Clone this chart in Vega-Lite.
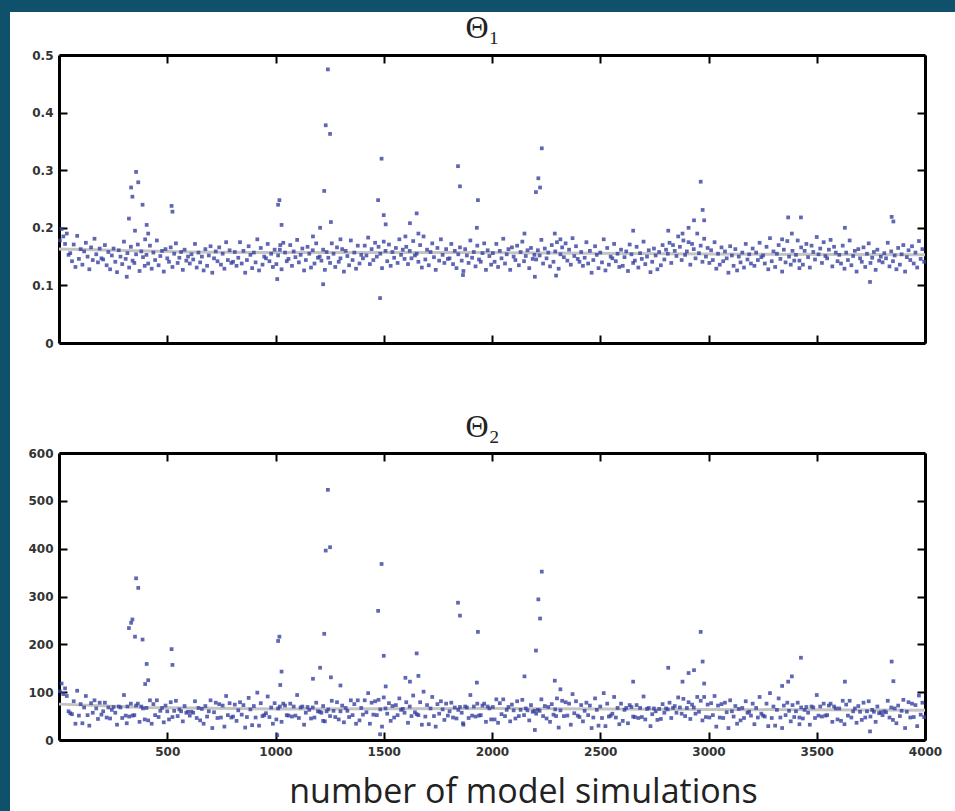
{
"$schema":"https://vega.github.io/schema/vega-lite/v6.json",
"background":"#0f506b",
"padding":{"left":10,"top":12,"right":0,"bottom":0},
"spacing":0,
"config":{"view":{"fill":"white","stroke":null},"axis":{"domainColor":"black","domainWidth":3,"tickColor":"black","tickWidth":2,"tickSize":-8,"grid":false,"labelFlush":false,"labelFont":"DejaVu Sans","labelFontWeight":"bold","labelFontSize":12,"labelColor":"#333333","titleFont":"Open Sans"}},
"datasets":{
"trend1":[{"sim":0,"v":0.163},{"sim":600,"v":0.158},{"sim":1000,"v":0.157},{"sim":2000,"v":0.157},{"sim":3000,"v":0.1545},{"sim":4000,"v":0.153}],
"trend2":[{"sim":0,"v":75},{"sim":400,"v":68},{"sim":1000,"v":65},{"sim":2000,"v":66},{"sim":3000,"v":64},{"sim":4000,"v":62}],
"sims":[
{"sim":4,"t1":0.178,"t2":102},{"sim":12,"t1":0.198,"t2":118},{"sim":20,"t1":0.185,"t2":96},{"sim":28,"t1":0.172,"t2":108},{"sim":36,"t1":0.19,"t2":92},{"sim":44,"t1":0.153,"t2":60},{"sim":52,"t1":0.156,"t2":56},{"sim":60,"t1":0.142,"t2":54},{"sim":68,"t1":0.171,"t2":81},{"sim":76,"t1":0.132,"t2":34},{"sim":84,"t1":0.186,"t2":103},{"sim":92,"t1":0.146,"t2":51},{"sim":100,"t1":0.163,"t2":75},{"sim":108,"t1":0.136,"t2":35},{"sim":116,"t1":0.159,"t2":68},{"sim":124,"t1":0.174,"t2":92},{"sim":132,"t1":0.15,"t2":52},{"sim":140,"t1":0.128,"t2":30},{"sim":148,"t1":0.166,"t2":77},{"sim":156,"t1":0.144,"t2":57},{"sim":164,"t1":0.181,"t2":83},{"sim":172,"t1":0.154,"t2":66},{"sim":180,"t1":0.14,"t2":44},{"sim":188,"t1":0.164,"t2":78},{"sim":196,"t1":0.147,"t2":53},
{"sim":204,"t1":0.145,"t2":60},{"sim":212,"t1":0.17,"t2":78},{"sim":220,"t1":0.135,"t2":47},{"sim":228,"t1":0.158,"t2":68},{"sim":236,"t1":0.128,"t2":45},{"sim":244,"t1":0.152,"t2":63},{"sim":252,"t1":0.164,"t2":69},{"sim":260,"t1":0.141,"t2":57},{"sim":268,"t1":0.123,"t2":32},{"sim":276,"t1":0.161,"t2":70},{"sim":284,"t1":0.15,"t2":68},{"sim":292,"t1":0.137,"t2":46},{"sim":300,"t1":0.176,"t2":94},{"sim":308,"t1":0.146,"t2":51},{"sim":316,"t1":0.156,"t2":70},{"sim":324,"t1":0.131,"t2":49},{"sim":332,"t1":0.167,"t2":76},{"sim":340,"t1":0.143,"t2":51},{"sim":348,"t1":0.139,"t2":52},{"sim":356,"t1":0.154,"t2":72},{"sim":364,"t1":0.171,"t2":76},{"sim":372,"t1":0.125,"t2":38},{"sim":380,"t1":0.159,"t2":70},{"sim":388,"t1":0.149,"t2":66},{"sim":396,"t1":0.134,"t2":43},
{"sim":404,"t1":0.153,"t2":67},{"sim":412,"t1":0.138,"t2":41},{"sim":420,"t1":0.169,"t2":83},{"sim":428,"t1":0.129,"t2":34},{"sim":436,"t1":0.157,"t2":75},{"sim":444,"t1":0.144,"t2":52},{"sim":452,"t1":0.178,"t2":83},{"sim":460,"t1":0.135,"t2":48},{"sim":468,"t1":0.151,"t2":61},{"sim":476,"t1":0.16,"t2":67},{"sim":484,"t1":0.124,"t2":37},{"sim":492,"t1":0.163,"t2":72},{"sim":500,"t1":0.147,"t2":60},{"sim":508,"t1":0.141,"t2":43},{"sim":516,"t1":0.166,"t2":79},{"sim":524,"t1":0.132,"t2":48},{"sim":532,"t1":0.155,"t2":61},{"sim":540,"t1":0.173,"t2":82},{"sim":548,"t1":0.139,"t2":50},{"sim":556,"t1":0.148,"t2":64},{"sim":564,"t1":0.158,"t2":60},{"sim":572,"t1":0.127,"t2":39},{"sim":580,"t1":0.162,"t2":71},{"sim":588,"t1":0.143,"t2":57},{"sim":596,"t1":0.15,"t2":59},
{"sim":604,"t1":0.138,"t2":51},{"sim":612,"t1":0.154,"t2":59},{"sim":620,"t1":0.145,"t2":57},{"sim":628,"t1":0.172,"t2":81},{"sim":636,"t1":0.131,"t2":46},{"sim":644,"t1":0.157,"t2":67},{"sim":652,"t1":0.14,"t2":41},{"sim":660,"t1":0.15,"t2":65},{"sim":668,"t1":0.126,"t2":34},{"sim":676,"t1":0.163,"t2":71},{"sim":684,"t1":0.134,"t2":49},{"sim":692,"t1":0.152,"t2":60},{"sim":700,"t1":0.168,"t2":83},{"sim":708,"t1":0.122,"t2":25},{"sim":716,"t1":0.147,"t2":58},{"sim":724,"t1":0.159,"t2":78},{"sim":732,"t1":0.142,"t2":46},{"sim":740,"t1":0.166,"t2":75},{"sim":748,"t1":0.136,"t2":47},{"sim":756,"t1":0.155,"t2":72},{"sim":764,"t1":0.129,"t2":28},{"sim":772,"t1":0.175,"t2":92},{"sim":780,"t1":0.144,"t2":52},{"sim":788,"t1":0.161,"t2":77},{"sim":796,"t1":0.139,"t2":47},
{"sim":804,"t1":0.141,"t2":49},{"sim":812,"t1":0.158,"t2":74},{"sim":820,"t1":0.134,"t2":40},{"sim":828,"t1":0.148,"t2":62},{"sim":836,"t1":0.175,"t2":79},{"sim":844,"t1":0.138,"t2":53},{"sim":852,"t1":0.16,"t2":73},{"sim":860,"t1":0.122,"t2":26},{"sim":868,"t1":0.144,"t2":48},{"sim":876,"t1":0.168,"t2":88},{"sim":884,"t1":0.153,"t2":64},{"sim":892,"t1":0.13,"t2":31},{"sim":900,"t1":0.157,"t2":71},{"sim":908,"t1":0.14,"t2":47},{"sim":916,"t1":0.18,"t2":99},{"sim":924,"t1":0.126,"t2":30},{"sim":932,"t1":0.165,"t2":77},{"sim":940,"t1":0.136,"t2":50},{"sim":948,"t1":0.15,"t2":52},{"sim":956,"t1":0.147,"t2":56},{"sim":964,"t1":0.172,"t2":91},{"sim":972,"t1":0.142,"t2":48},{"sim":980,"t1":0.155,"t2":68},{"sim":988,"t1":0.132,"t2":34},{"sim":996,"t1":0.162,"t2":77},
{"sim":1004,"t1":0.137,"t2":43},{"sim":1012,"t1":0.152,"t2":66},{"sim":1020,"t1":0.162,"t2":70},{"sim":1028,"t1":0.128,"t2":38},{"sim":1036,"t1":0.174,"t2":76},{"sim":1044,"t1":0.157,"t2":72},{"sim":1052,"t1":0.142,"t2":52},{"sim":1060,"t1":0.146,"t2":51},{"sim":1068,"t1":0.17,"t2":76},{"sim":1076,"t1":0.134,"t2":49},{"sim":1084,"t1":0.159,"t2":70},{"sim":1092,"t1":0.149,"t2":51},{"sim":1100,"t1":0.179,"t2":94},{"sim":1108,"t1":0.14,"t2":46},{"sim":1116,"t1":0.153,"t2":68},{"sim":1124,"t1":0.164,"t2":70},{"sim":1132,"t1":0.126,"t2":32},{"sim":1140,"t1":0.144,"t2":57},{"sim":1148,"t1":0.167,"t2":69},{"sim":1156,"t1":0.155,"t2":63},{"sim":1164,"t1":0.131,"t2":45},{"sim":1172,"t1":0.161,"t2":68},{"sim":1180,"t1":0.138,"t2":47},{"sim":1188,"t1":0.173,"t2":78},{"sim":1196,"t1":0.148,"t2":60},
{"sim":1204,"t1":0.15,"t2":59},{"sim":1212,"t1":0.143,"t2":57},{"sim":1220,"t1":0.162,"t2":71},{"sim":1228,"t1":0.127,"t2":39},{"sim":1236,"t1":0.158,"t2":60},{"sim":1244,"t1":0.148,"t2":64},{"sim":1252,"t1":0.139,"t2":50},{"sim":1260,"t1":0.173,"t2":82},{"sim":1268,"t1":0.155,"t2":61},{"sim":1276,"t1":0.132,"t2":48},{"sim":1284,"t1":0.166,"t2":79},{"sim":1292,"t1":0.141,"t2":43},{"sim":1300,"t1":0.147,"t2":60},{"sim":1308,"t1":0.163,"t2":72},{"sim":1316,"t1":0.124,"t2":37},{"sim":1324,"t1":0.16,"t2":67},{"sim":1332,"t1":0.151,"t2":61},{"sim":1340,"t1":0.135,"t2":48},{"sim":1348,"t1":0.178,"t2":83},{"sim":1356,"t1":0.144,"t2":52},{"sim":1364,"t1":0.157,"t2":75},{"sim":1372,"t1":0.129,"t2":34},{"sim":1380,"t1":0.169,"t2":83},{"sim":1388,"t1":0.138,"t2":41},{"sim":1396,"t1":0.153,"t2":67},
{"sim":1404,"t1":0.147,"t2":53},{"sim":1412,"t1":0.169,"t2":83},{"sim":1420,"t1":0.152,"t2":58},{"sim":1428,"t1":0.183,"t2":98},{"sim":1436,"t1":0.137,"t2":34},{"sim":1444,"t1":0.163,"t2":78},{"sim":1452,"t1":0.144,"t2":53},{"sim":1460,"t1":0.174,"t2":81},{"sim":1468,"t1":0.15,"t2":52},{"sim":1476,"t1":0.167,"t2":84},{"sim":1484,"t1":0.155,"t2":64},{"sim":1492,"t1":0.13,"t2":28},{"sim":1500,"t1":0.176,"t2":89},{"sim":1508,"t1":0.16,"t2":66},{"sim":1516,"t1":0.142,"t2":55},{"sim":1524,"t1":0.171,"t2":77},{"sim":1532,"t1":0.134,"t2":40},{"sim":1540,"t1":0.158,"t2":71},{"sim":1548,"t1":0.148,"t2":47},{"sim":1556,"t1":0.165,"t2":73},{"sim":1564,"t1":0.139,"t2":52},{"sim":1572,"t1":0.18,"t2":87},{"sim":1580,"t1":0.153,"t2":63},{"sim":1588,"t1":0.162,"t2":65},{"sim":1596,"t1":0.146,"t2":57},
{"sim":1604,"t1":0.167,"t2":79},{"sim":1612,"t1":0.137,"t2":36},{"sim":1620,"t1":0.16,"t2":70},{"sim":1628,"t1":0.147,"t2":50},{"sim":1636,"t1":0.177,"t2":93},{"sim":1644,"t1":0.152,"t2":58},{"sim":1652,"t1":0.155,"t2":54},{"sim":1660,"t1":0.141,"t2":52},{"sim":1668,"t1":0.17,"t2":79},{"sim":1676,"t1":0.131,"t2":32},{"sim":1684,"t1":0.185,"t2":101},{"sim":1692,"t1":0.145,"t2":49},{"sim":1700,"t1":0.162,"t2":73},{"sim":1708,"t1":0.135,"t2":33},{"sim":1716,"t1":0.158,"t2":66},{"sim":1724,"t1":0.173,"t2":90},{"sim":1732,"t1":0.149,"t2":50},{"sim":1740,"t1":0.127,"t2":28},{"sim":1748,"t1":0.165,"t2":75},{"sim":1756,"t1":0.143,"t2":55},{"sim":1764,"t1":0.18,"t2":81},{"sim":1772,"t1":0.153,"t2":64},{"sim":1780,"t1":0.139,"t2":42},{"sim":1788,"t1":0.163,"t2":76},{"sim":1796,"t1":0.146,"t2":51},
{"sim":1804,"t1":0.147,"t2":60},{"sim":1812,"t1":0.172,"t2":78},{"sim":1820,"t1":0.137,"t2":47},{"sim":1828,"t1":0.16,"t2":68},{"sim":1836,"t1":0.13,"t2":45},{"sim":1844,"t1":0.154,"t2":63},{"sim":1852,"t1":0.166,"t2":69},{"sim":1860,"t1":0.143,"t2":57},{"sim":1868,"t1":0.125,"t2":32},{"sim":1876,"t1":0.163,"t2":70},{"sim":1884,"t1":0.152,"t2":68},{"sim":1892,"t1":0.139,"t2":46},{"sim":1900,"t1":0.178,"t2":94},{"sim":1908,"t1":0.148,"t2":51},{"sim":1916,"t1":0.158,"t2":70},{"sim":1924,"t1":0.133,"t2":49},{"sim":1932,"t1":0.169,"t2":76},{"sim":1940,"t1":0.145,"t2":51},{"sim":1948,"t1":0.141,"t2":52},{"sim":1956,"t1":0.156,"t2":72},{"sim":1964,"t1":0.173,"t2":76},{"sim":1972,"t1":0.127,"t2":38},{"sim":1980,"t1":0.161,"t2":70},{"sim":1988,"t1":0.151,"t2":66},{"sim":1996,"t1":0.136,"t2":43},
{"sim":2004,"t1":0.156,"t2":69},{"sim":2012,"t1":0.141,"t2":43},{"sim":2020,"t1":0.172,"t2":85},{"sim":2028,"t1":0.132,"t2":36},{"sim":2036,"t1":0.16,"t2":77},{"sim":2044,"t1":0.147,"t2":54},{"sim":2052,"t1":0.181,"t2":85},{"sim":2060,"t1":0.138,"t2":50},{"sim":2068,"t1":0.154,"t2":63},{"sim":2076,"t1":0.163,"t2":69},{"sim":2084,"t1":0.127,"t2":39},{"sim":2092,"t1":0.166,"t2":74},{"sim":2100,"t1":0.15,"t2":62},{"sim":2108,"t1":0.144,"t2":45},{"sim":2116,"t1":0.169,"t2":81},{"sim":2124,"t1":0.135,"t2":50},{"sim":2132,"t1":0.158,"t2":63},{"sim":2140,"t1":0.176,"t2":84},{"sim":2148,"t1":0.142,"t2":52},{"sim":2156,"t1":0.151,"t2":66},{"sim":2164,"t1":0.161,"t2":62},{"sim":2172,"t1":0.13,"t2":41},{"sim":2180,"t1":0.165,"t2":73},{"sim":2188,"t1":0.146,"t2":59},{"sim":2196,"t1":0.153,"t2":61},
{"sim":2204,"t1":0.145,"t2":55},{"sim":2212,"t1":0.161,"t2":63},{"sim":2220,"t1":0.152,"t2":61},{"sim":2228,"t1":0.179,"t2":85},{"sim":2236,"t1":0.138,"t2":50},{"sim":2244,"t1":0.164,"t2":71},{"sim":2252,"t1":0.147,"t2":45},{"sim":2260,"t1":0.157,"t2":69},{"sim":2268,"t1":0.133,"t2":38},{"sim":2276,"t1":0.17,"t2":75},{"sim":2284,"t1":0.141,"t2":53},{"sim":2292,"t1":0.159,"t2":64},{"sim":2300,"t1":0.175,"t2":87},{"sim":2308,"t1":0.129,"t2":26},{"sim":2316,"t1":0.154,"t2":62},{"sim":2324,"t1":0.166,"t2":82},{"sim":2332,"t1":0.149,"t2":50},{"sim":2340,"t1":0.173,"t2":79},{"sim":2348,"t1":0.143,"t2":51},{"sim":2356,"t1":0.162,"t2":76},{"sim":2364,"t1":0.136,"t2":32},{"sim":2372,"t1":0.182,"t2":96},{"sim":2380,"t1":0.151,"t2":56},{"sim":2388,"t1":0.168,"t2":81},{"sim":2396,"t1":0.146,"t2":51},
{"sim":2404,"t1":0.141,"t2":48},{"sim":2412,"t1":0.158,"t2":73},{"sim":2420,"t1":0.134,"t2":39},{"sim":2428,"t1":0.148,"t2":61},{"sim":2436,"t1":0.175,"t2":78},{"sim":2444,"t1":0.138,"t2":52},{"sim":2452,"t1":0.16,"t2":72},{"sim":2460,"t1":0.122,"t2":25},{"sim":2468,"t1":0.144,"t2":47},{"sim":2476,"t1":0.168,"t2":87},{"sim":2484,"t1":0.153,"t2":63},{"sim":2492,"t1":0.13,"t2":30},{"sim":2500,"t1":0.157,"t2":70},{"sim":2508,"t1":0.14,"t2":46},{"sim":2516,"t1":0.18,"t2":98},{"sim":2524,"t1":0.126,"t2":29},{"sim":2532,"t1":0.165,"t2":76},{"sim":2540,"t1":0.136,"t2":49},{"sim":2548,"t1":0.15,"t2":51},{"sim":2556,"t1":0.147,"t2":55},{"sim":2564,"t1":0.172,"t2":90},{"sim":2572,"t1":0.142,"t2":47},{"sim":2580,"t1":0.155,"t2":67},{"sim":2588,"t1":0.132,"t2":33},{"sim":2596,"t1":0.162,"t2":76},
{"sim":2604,"t1":0.134,"t2":40},{"sim":2612,"t1":0.149,"t2":63},{"sim":2620,"t1":0.159,"t2":67},{"sim":2628,"t1":0.125,"t2":35},{"sim":2636,"t1":0.171,"t2":73},{"sim":2644,"t1":0.154,"t2":69},{"sim":2652,"t1":0.139,"t2":49},{"sim":2660,"t1":0.143,"t2":48},{"sim":2668,"t1":0.167,"t2":73},{"sim":2676,"t1":0.131,"t2":46},{"sim":2684,"t1":0.156,"t2":67},{"sim":2692,"t1":0.146,"t2":48},{"sim":2700,"t1":0.176,"t2":91},{"sim":2708,"t1":0.137,"t2":43},{"sim":2716,"t1":0.15,"t2":65},{"sim":2724,"t1":0.161,"t2":67},{"sim":2732,"t1":0.123,"t2":29},{"sim":2740,"t1":0.141,"t2":54},{"sim":2748,"t1":0.164,"t2":66},{"sim":2756,"t1":0.152,"t2":60},{"sim":2764,"t1":0.128,"t2":42},{"sim":2772,"t1":0.158,"t2":65},{"sim":2780,"t1":0.135,"t2":44},{"sim":2788,"t1":0.17,"t2":75},{"sim":2796,"t1":0.145,"t2":57},
{"sim":2804,"t1":0.162,"t2":66},{"sim":2812,"t1":0.155,"t2":64},{"sim":2820,"t1":0.174,"t2":78},{"sim":2828,"t1":0.139,"t2":46},{"sim":2836,"t1":0.17,"t2":67},{"sim":2844,"t1":0.16,"t2":71},{"sim":2852,"t1":0.151,"t2":57},{"sim":2860,"t1":0.185,"t2":89},{"sim":2868,"t1":0.167,"t2":68},{"sim":2876,"t1":0.144,"t2":55},{"sim":2884,"t1":0.178,"t2":86},{"sim":2892,"t1":0.153,"t2":50},{"sim":2900,"t1":0.159,"t2":67},{"sim":2908,"t1":0.175,"t2":79},{"sim":2916,"t1":0.136,"t2":44},{"sim":2924,"t1":0.172,"t2":74},{"sim":2932,"t1":0.163,"t2":68},{"sim":2940,"t1":0.147,"t2":55},{"sim":2948,"t1":0.19,"t2":90},{"sim":2956,"t1":0.156,"t2":59},{"sim":2964,"t1":0.169,"t2":82},{"sim":2972,"t1":0.141,"t2":41},{"sim":2980,"t1":0.181,"t2":90},{"sim":2988,"t1":0.15,"t2":48},{"sim":2996,"t1":0.165,"t2":74},
{"sim":3004,"t1":0.139,"t2":47},{"sim":3012,"t1":0.161,"t2":77},{"sim":3020,"t1":0.144,"t2":52},{"sim":3028,"t1":0.175,"t2":92},{"sim":3036,"t1":0.129,"t2":28},{"sim":3044,"t1":0.155,"t2":72},{"sim":3052,"t1":0.136,"t2":47},{"sim":3060,"t1":0.166,"t2":75},{"sim":3068,"t1":0.142,"t2":46},{"sim":3076,"t1":0.159,"t2":78},{"sim":3084,"t1":0.147,"t2":58},{"sim":3092,"t1":0.122,"t2":25},{"sim":3100,"t1":0.168,"t2":83},{"sim":3108,"t1":0.152,"t2":60},{"sim":3116,"t1":0.134,"t2":49},{"sim":3124,"t1":0.163,"t2":71},{"sim":3132,"t1":0.126,"t2":34},{"sim":3140,"t1":0.15,"t2":65},{"sim":3148,"t1":0.14,"t2":41},{"sim":3156,"t1":0.157,"t2":67},{"sim":3164,"t1":0.131,"t2":46},{"sim":3172,"t1":0.172,"t2":81},{"sim":3180,"t1":0.145,"t2":57},{"sim":3188,"t1":0.154,"t2":59},{"sim":3196,"t1":0.138,"t2":51},
{"sim":3204,"t1":0.164,"t2":76},{"sim":3212,"t1":0.134,"t2":33},{"sim":3220,"t1":0.157,"t2":67},{"sim":3228,"t1":0.144,"t2":47},{"sim":3236,"t1":0.174,"t2":90},{"sim":3244,"t1":0.149,"t2":55},{"sim":3252,"t1":0.152,"t2":51},{"sim":3260,"t1":0.138,"t2":49},{"sim":3268,"t1":0.167,"t2":76},{"sim":3276,"t1":0.128,"t2":29},{"sim":3284,"t1":0.182,"t2":98},{"sim":3292,"t1":0.142,"t2":46},{"sim":3300,"t1":0.159,"t2":70},{"sim":3308,"t1":0.132,"t2":30},{"sim":3316,"t1":0.155,"t2":63},{"sim":3324,"t1":0.17,"t2":87},{"sim":3332,"t1":0.146,"t2":47},{"sim":3340,"t1":0.124,"t2":25},{"sim":3348,"t1":0.162,"t2":72},{"sim":3356,"t1":0.14,"t2":52},{"sim":3364,"t1":0.177,"t2":78},{"sim":3372,"t1":0.15,"t2":61},{"sim":3380,"t1":0.136,"t2":39},{"sim":3388,"t1":0.16,"t2":73},{"sim":3396,"t1":0.143,"t2":48},
{"sim":3404,"t1":0.153,"t2":60},{"sim":3412,"t1":0.178,"t2":78},{"sim":3420,"t1":0.143,"t2":47},{"sim":3428,"t1":0.166,"t2":68},{"sim":3436,"t1":0.136,"t2":45},{"sim":3444,"t1":0.16,"t2":63},{"sim":3452,"t1":0.172,"t2":69},{"sim":3460,"t1":0.149,"t2":57},{"sim":3468,"t1":0.131,"t2":32},{"sim":3476,"t1":0.169,"t2":70},{"sim":3484,"t1":0.158,"t2":68},{"sim":3492,"t1":0.145,"t2":46},{"sim":3500,"t1":0.184,"t2":94},{"sim":3508,"t1":0.154,"t2":51},{"sim":3516,"t1":0.164,"t2":70},{"sim":3524,"t1":0.139,"t2":49},{"sim":3532,"t1":0.175,"t2":76},{"sim":3540,"t1":0.151,"t2":51},{"sim":3548,"t1":0.147,"t2":52},{"sim":3556,"t1":0.162,"t2":72},{"sim":3564,"t1":0.179,"t2":76},{"sim":3572,"t1":0.133,"t2":38},{"sim":3580,"t1":0.167,"t2":70},{"sim":3588,"t1":0.157,"t2":66},{"sim":3596,"t1":0.142,"t2":43},
{"sim":3604,"t1":0.153,"t2":66},{"sim":3612,"t1":0.138,"t2":40},{"sim":3620,"t1":0.169,"t2":82},{"sim":3628,"t1":0.129,"t2":33},{"sim":3636,"t1":0.157,"t2":74},{"sim":3644,"t1":0.144,"t2":51},{"sim":3652,"t1":0.178,"t2":82},{"sim":3660,"t1":0.135,"t2":47},{"sim":3668,"t1":0.151,"t2":60},{"sim":3676,"t1":0.16,"t2":66},{"sim":3684,"t1":0.124,"t2":36},{"sim":3692,"t1":0.163,"t2":71},{"sim":3700,"t1":0.147,"t2":59},{"sim":3708,"t1":0.141,"t2":42},{"sim":3716,"t1":0.166,"t2":78},{"sim":3724,"t1":0.132,"t2":47},{"sim":3732,"t1":0.155,"t2":60},{"sim":3740,"t1":0.173,"t2":81},{"sim":3748,"t1":0.139,"t2":49},{"sim":3756,"t1":0.148,"t2":63},{"sim":3764,"t1":0.158,"t2":59},{"sim":3772,"t1":0.127,"t2":38},{"sim":3780,"t1":0.162,"t2":70},{"sim":3788,"t1":0.143,"t2":56},{"sim":3796,"t1":0.15,"t2":58},
{"sim":3804,"t1":0.14,"t2":52},{"sim":3812,"t1":0.156,"t2":60},{"sim":3820,"t1":0.147,"t2":58},{"sim":3828,"t1":0.174,"t2":82},{"sim":3836,"t1":0.133,"t2":47},{"sim":3844,"t1":0.159,"t2":68},{"sim":3852,"t1":0.142,"t2":42},{"sim":3860,"t1":0.152,"t2":66},{"sim":3868,"t1":0.128,"t2":35},{"sim":3876,"t1":0.165,"t2":72},{"sim":3884,"t1":0.136,"t2":50},{"sim":3892,"t1":0.154,"t2":61},{"sim":3900,"t1":0.17,"t2":84},{"sim":3908,"t1":0.124,"t2":25},{"sim":3916,"t1":0.149,"t2":59},{"sim":3924,"t1":0.161,"t2":79},{"sim":3932,"t1":0.144,"t2":47},{"sim":3940,"t1":0.168,"t2":76},{"sim":3948,"t1":0.138,"t2":48},{"sim":3956,"t1":0.157,"t2":73},{"sim":3964,"t1":0.131,"t2":29},{"sim":3972,"t1":0.177,"t2":93},{"sim":3980,"t1":0.146,"t2":53},{"sim":3988,"t1":0.163,"t2":78},{"sim":3996,"t1":0.141,"t2":48},
{"sim":313,"t1":0.115,"t2":35},{"sim":323,"t1":0.216,"t2":234},{"sim":333,"t1":0.27,"t2":245},{"sim":339,"t1":0.254,"t2":252},{"sim":351,"t1":0.195,"t2":216},{"sim":356,"t1":0.297,"t2":338},{"sim":366,"t1":0.279,"t2":318},{"sim":386,"t1":0.24,"t2":210},{"sim":398,"t1":0.18,"t2":117},{"sim":405,"t1":0.205,"t2":159},{"sim":412,"t1":0.19,"t2":125},{"sim":520,"t1":0.238,"t2":190},{"sim":524,"t1":0.228,"t2":157},
{"sim":1008,"t1":0.111,"t2":10},{"sim":1012,"t1":0.24,"t2":207},{"sim":1018,"t1":0.248,"t2":216},{"sim":1028,"t1":0.205,"t2":143},{"sim":1022,"t1":0.17,"t2":115},{"sim":1173,"t1":0.185,"t2":128},{"sim":1206,"t1":0.2,"t2":151},{"sim":1220,"t1":0.102,"t2":40},{"sim":1225,"t1":0.264,"t2":222},{"sim":1232,"t1":0.378,"t2":396},{"sim":1242,"t1":0.475,"t2":523},{"sim":1252,"t1":0.363,"t2":403},{"sim":1256,"t1":0.21,"t2":131},{"sim":1300,"t1":0.18,"t2":114},
{"sim":1474,"t1":0.248,"t2":270},{"sim":1483,"t1":0.078,"t2":12},{"sim":1490,"t1":0.32,"t2":368},{"sim":1500,"t1":0.222,"t2":176},{"sim":1509,"t1":0.206,"t2":112},{"sim":1600,"t1":0.185,"t2":130},{"sim":1621,"t1":0.208,"t2":122},{"sim":1652,"t1":0.225,"t2":181},{"sim":1660,"t1":0.19,"t2":134},{"sim":1843,"t1":0.307,"t2":287},{"sim":1852,"t1":0.272,"t2":260},{"sim":1866,"t1":0.118,"t2":35},{"sim":1930,"t1":0.2,"t2":120},{"sim":1935,"t1":0.248,"t2":226},
{"sim":2150,"t1":0.19,"t2":133},{"sim":2198,"t1":0.115,"t2":21},{"sim":2203,"t1":0.262,"t2":187},{"sim":2214,"t1":0.286,"t2":294},{"sim":2222,"t1":0.27,"t2":254},{"sim":2230,"t1":0.338,"t2":352},{"sim":2290,"t1":0.19,"t2":124},{"sim":2296,"t1":0.117,"t2":50},{"sim":2316,"t1":0.18,"t2":106},
{"sim":2652,"t1":0.195,"t2":122},{"sim":2814,"t1":0.195,"t2":151},{"sim":2880,"t1":0.19,"t2":122},{"sim":2908,"t1":0.2,"t2":140},{"sim":2933,"t1":0.213,"t2":146},{"sim":2964,"t1":0.28,"t2":226},{"sim":2973,"t1":0.231,"t2":164},{"sim":2980,"t1":0.213,"t2":118},
{"sim":3340,"t1":0.18,"t2":113},{"sim":3368,"t1":0.218,"t2":122},{"sim":3385,"t1":0.19,"t2":133},{"sim":3420,"t1":0.13,"t2":33},{"sim":3427,"t1":0.218,"t2":172},{"sim":3630,"t1":0.2,"t2":122},{"sim":3746,"t1":0.106,"t2":18},{"sim":3846,"t1":0.219,"t2":164},{"sim":3854,"t1":0.211,"t2":123}
]},
"vconcat":[
{"width":945,"height":399,
 "title":{"text":"Θ₁","font":"Liberation Serif","fontSize":32,"fontWeight":"normal","color":"#222222","offset":-33,"anchor":"middle","frame":"group"},
 "layer":[
  {"data":{"name":"trend1"},"mark":{"type":"line","color":"#c4c4c4","strokeWidth":3},
   "encoding":{
    "x":{"field":"sim","type":"quantitative","scale":{"domain":[0,4000],"range":[49,915],"nice":false,"zero":false},"axis":{"orient":"bottom","offset":-68,"values":[500,1000,1500,2000,2500,3000,3500,4000],"labels":false,"title":null}},
    "y":{"field":"v","type":"quantitative","scale":{"domain":[0,0.5],"range":[331,43],"nice":false,"zero":false},"axis":{"orient":"left","offset":-49,"values":[0,0.1,0.2,0.3,0.4,0.5],"format":"~g","labelPadding":14,"title":null}}}},
  {"data":{"name":"sims"},"mark":{"type":"square","size":14,"color":"#3741a0","opacity":0.8},
   "encoding":{
    "x":{"field":"sim","type":"quantitative","scale":{"domain":[0,4000],"range":[49,915],"nice":false,"zero":false},"axis":{"orient":"top","offset":-43,"values":[500,1000,1500,2000,2500,3000,3500,4000],"labels":false,"title":null}},
    "y":{"field":"t1","type":"quantitative","scale":{"domain":[0,0.5],"range":[331,43],"nice":false,"zero":false},"axis":{"orient":"right","offset":-30,"values":[0.1,0.2,0.3,0.4],"labels":false,"title":null}}}}
 ],
 "resolve":{"axis":{"x":"independent","y":"independent"}}
},
{"width":945,"height":400,
 "title":{"text":"Θ₂","font":"Liberation Serif","fontSize":32,"fontWeight":"normal","color":"#222222","offset":-33,"anchor":"middle","frame":"group"},
 "layer":[
  {"data":{"name":"trend2"},"mark":{"type":"line","color":"#c4c4c4","strokeWidth":3},
   "encoding":{
    "x":{"field":"sim","type":"quantitative","scale":{"domain":[0,4000],"range":[49,915],"nice":false,"zero":false},"axis":{"orient":"bottom","offset":-71,"values":[500,1000,1500,2000,2500,3000,3500,4000],"format":"d","labelPadding":14,"labelBaseline":"top","title":"number of model simulations","titleFontSize":34,"titleFontWeight":"normal","titleColor":"#222222","titleX":513,"titleY":62,"titleBaseline":"alphabetic"}},
    "y":{"field":"v","type":"quantitative","scale":{"domain":[0,600],"range":[329,42],"nice":false,"zero":false},"axis":{"orient":"left","offset":-49,"values":[0,100,200,300,400,500,600],"labelPadding":14,"title":null}}}},
  {"data":{"name":"sims"},"mark":{"type":"square","size":14,"color":"#3741a0","opacity":0.8},
   "encoding":{
    "x":{"field":"sim","type":"quantitative","scale":{"domain":[0,4000],"range":[49,915],"nice":false,"zero":false},"axis":{"orient":"top","offset":-42,"values":[500,1000,1500,2000,2500,3000,3500,4000],"labels":false,"title":null}},
    "y":{"field":"t2","type":"quantitative","scale":{"domain":[0,600],"range":[329,42],"nice":false,"zero":false},"axis":{"orient":"right","offset":-30,"values":[100,200,300,400,500],"labels":false,"title":null}}}}
 ],
 "resolve":{"axis":{"x":"independent","y":"independent"}}
}
]
}
